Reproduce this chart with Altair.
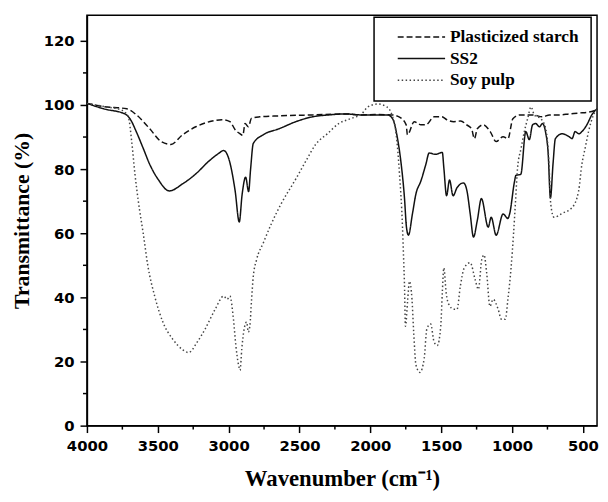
import altair as alt
import pandas as pd

series_names = ["Plasticized starch", "SS2", "Soy pulp"]

starch_wn = [4000, 3882, 3719, 3650, 3557, 3476, 3408, 3325, 3232, 3116, 3047, 2991, 2954, 2919, 2900,
             2884, 2861, 2838, 2780, 2643, 2409, 2177, 2061, 1968, 1850, 1794, 1747, 1738, 1690, 1643,
             1608, 1550, 1495, 1460, 1411, 1362, 1320, 1286, 1265, 1245, 1202, 1154, 1112, 1063, 1029,
             994, 945, 903, 855, 785, 736, 667, 597, 527, 458, 400]
starch_t = [100.5, 99.5, 98.8, 96.9, 92.6, 88.6, 87.7, 90.7, 93.2, 95, 95.4, 94.8, 92.3, 91, 90.5,
            94.2, 93.2, 95.9, 96.3, 96.6, 96.9, 97.2, 96.9, 97, 96.9, 96.2, 93.8, 90.7, 94.8, 93.8,
            93.8, 96.3, 96.3, 95.4, 94.8, 95, 93.8, 92.6, 89.5, 92.6, 93.8, 91.7, 88.6, 90.1, 89.5,
            95.7, 96.9, 96.9, 96.9, 96.3, 96.9, 96.9, 97.2, 97.5, 97.8, 98.5]

ss2_wn = [4000, 3882, 3731, 3696, 3652, 3603, 3557, 3499, 3418, 3325, 3232, 3139, 3070, 3035, 3000,
          2954, 2925, 2905, 2880, 2859, 2845, 2826, 2756, 2643, 2525, 2409, 2295, 2177, 2061, 1968,
          1878, 1843, 1808, 1782, 1759, 1745, 1731, 1703, 1678, 1643, 1608, 1585, 1539, 1492, 1481,
          1462, 1441, 1416, 1388, 1342, 1318, 1295, 1272, 1245, 1216, 1168, 1147, 1112, 1063, 1029,
          1017, 983, 973, 938, 903, 878, 855, 833, 806, 785, 764, 745, 729, 710, 694,
          646, 597, 576, 555, 527, 507, 472, 437, 400]
ss2_t = [100.5, 98.8, 97.2, 95.7, 91.7, 86.5, 81.5, 76.9, 73.2, 75.4, 78.5, 82.5, 84.9, 85.8, 83.4,
         73.2, 63.5, 72, 77.5, 73, 80, 88, 90.7, 92.6, 94.8, 96.3, 96.9, 97.2, 96.9, 96.9,
         96.9, 95.7, 89.5, 81.5, 71, 61.9, 59.4, 66, 72.3, 76.3, 81.5, 85, 84.6, 85.2, 80.3,
         71.7, 76.6, 71.7, 74.2, 75.7, 73.2, 66, 58.8, 64, 70.8, 61.9, 65, 59.4, 66, 64.6,
         66, 76, 78, 78.4, 91.7, 89.2, 93.8, 94.2, 93.2, 94.2, 91.7, 85, 71, 82, 89.5,
         91, 90.1, 89.5, 91.7, 91, 91.7, 93.8, 96.9, 98.8]

soy_wn = [4000, 3880, 3760, 3708, 3684, 3661, 3638, 3603, 3569, 3522, 3464, 3395, 3325, 3283, 3221,
          3165, 3095, 3035, 3010, 2991, 2966, 2949, 2930, 2919, 2907, 2891, 2873, 2861, 2850, 2838,
          2826, 2803, 2756, 2698, 2629, 2525, 2455, 2386, 2304, 2223, 2142, 2061, 2017, 1947, 1884,
          1850, 1817, 1794, 1773, 1765, 1759, 1752, 1736, 1724, 1706, 1694, 1678, 1650, 1620, 1601,
          1574, 1550, 1527, 1503, 1492, 1481, 1465, 1446, 1411, 1388, 1365, 1337, 1295, 1260, 1237,
          1214, 1197, 1179, 1156, 1133, 1098, 1075, 1047, 1029, 1006, 989, 975, 961, 936, 913,
          890, 866, 843, 797, 762, 739, 727, 704, 646, 576, 530, 507, 484, 460, 425, 400]
soy_t = [100.5, 99.5, 98.5, 96.3, 88.6, 78.4, 70.2, 60, 49.6, 40.4, 32.3, 27, 23.7, 22.8, 26.1,
         30.2, 36.3, 40.4, 39.4, 40.4, 33.2, 25, 18.9, 17.3, 24, 30, 32.3, 29.2, 31.2, 39.4,
         46.5, 51.7, 56.9, 63, 69.2, 77, 82.5, 87.7, 91, 94.2, 95.7, 97.2, 99.4, 100.3, 99.4,
         97.2, 90.7, 78.4, 62, 52, 44, 31, 39.4, 45, 39.4, 29.2, 18.9, 16.6, 20.9, 30.2,
         31.7, 26.1, 25, 31, 41.5, 49.2, 41.5, 37.8, 36.3, 36.3, 43.4, 49.2, 50.8, 45.5, 42.5,
         51.7, 53.2, 47.7, 37.2, 39.4, 36.3, 33.2, 33.2, 39.4, 49.6, 60, 70.2, 80.3, 86.5, 91.7,
         95.7, 99.4, 96.9, 95.7, 92.6, 81.5, 69.2, 65, 66.2, 68, 73.2, 81.5, 86.5, 91.7, 96.9, 98.8]

x_major = [4000, 3500, 3000, 2500, 2000, 1500, 1000, 500]
x_minor = [3750, 3250, 2750, 2250, 1750, 1250, 750]
y_major = [0, 20, 40, 60, 80, 100, 120]
y_minor = [10, 30, 50, 70, 90, 110]

rows = []
for name, wn, t in [(series_names[0], starch_wn, starch_t),
                    (series_names[1], ss2_wn, ss2_t),
                    (series_names[2], soy_wn, soy_t)]:
    assert len(wn) == len(t), (name, len(wn), len(t))
    rows += [{"series": name, "wn": w, "t": v} for w, v in zip(wn, t)]
df = pd.DataFrame(rows)

W, H = 517, 416
x_scale = alt.Scale(domain=[4000, 400], zero=False, nice=False)
y_scale = alt.Scale(domain=[0, 128], nice=False, zero=False)

legend = alt.Legend(
    title=None, orient="none", legendX=291, legendY=2,
    symbolType="stroke", symbolSize=2304, symbolStrokeWidth=1.5, clipHeight=16,
    rowPadding=4, padding=12, strokeColor="black", fillColor="white",
    labelFont="Liberation Serif", labelFontSize=17.5, labelFontWeight="bold",
    labelColor="black", labelOffset=4, symbolOffset=11, labelLimit=300,
)

lines = alt.Chart(df).mark_line(strokeWidth=1.5, interpolate="monotone").encode(
    x=alt.X("wn:Q", scale=x_scale,
            axis=alt.Axis(values=x_major, format="d", labelFlush=False, labelOverlap=False,
                          title="Wavenumber (cm⁻¹)", titlePadding=15, titleFontSize=23)),
    y=alt.Y("t:Q", scale=y_scale,
            axis=alt.Axis(values=y_major, format="d", labelFlush=False,
                          title="Transmittance (%)", titlePadding=10, titleFontSize=22)),
    strokeDash=alt.StrokeDash("series:N",
                              scale=alt.Scale(domain=series_names,
                                              range=[[6, 3], [1, 0], [1.5, 2.5]]),
                              legend=legend),
    color=alt.Color("series:N",
                    scale=alt.Scale(domain=series_names, range=["#111111", "#111111", "#444444"]),
                    legend=legend),
)

xminor = alt.Chart(pd.DataFrame({"wn": x_minor})).mark_rule(color="black", strokeWidth=1.5).encode(
    x=alt.X("wn:Q", scale=x_scale), y=alt.value(H), y2=alt.value(H + 4))
yminor = alt.Chart(pd.DataFrame({"t": y_minor})).mark_rule(color="black", strokeWidth=1.5).encode(
    y=alt.Y("t:Q", scale=y_scale), x=alt.value(0), x2=alt.value(-4))

chart = alt.layer(lines, xminor, yminor).properties(
    width=W, height=H,
    autosize=alt.AutoSizeParams(type="none"),
    padding={"left": 80, "top": 4, "right": 3, "bottom": 66},
).configure_view(
    stroke="black", strokeWidth=1.5
).configure_axis(
    grid=False, domainColor="black", domainWidth=1.5, tickColor="black", tickWidth=1.5,
    tickSize=7, labelFont="DejaVu Sans", labelFontWeight="bold", labelFontSize=15,
    labelColor="black", labelPadding=6, titleFont="Liberation Serif", titleFontWeight="bold",
    titleColor="black",
).configure_legend(strokeWidth=1.5)

chart.save("out.html", embed_options={"renderer": "svg", "actions": False})
